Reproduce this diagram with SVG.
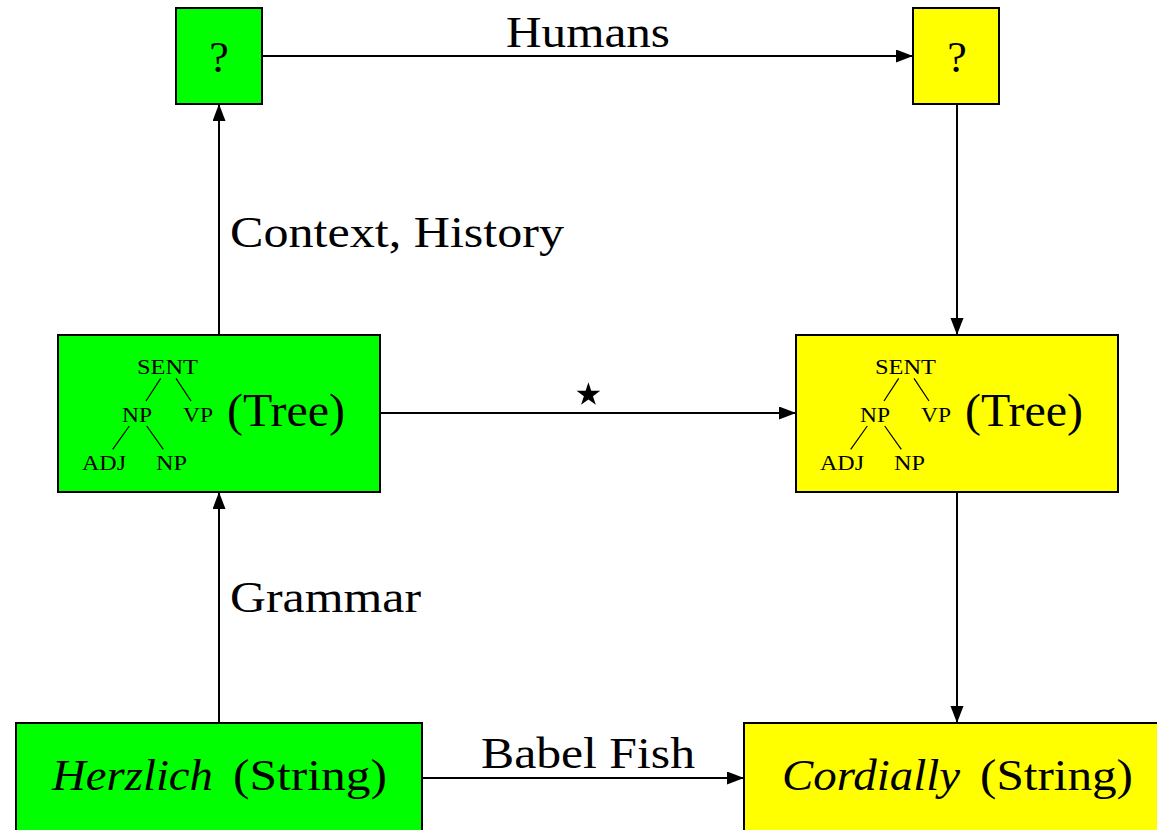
<svg xmlns="http://www.w3.org/2000/svg" width="1157" height="830" viewBox="0 0 1157 830">
  <style>
    .box { stroke: #000; stroke-width: 2; }
    .g { fill: #00ff00; }
    .y { fill: #ffff00; }
    .edge { stroke: #000; stroke-width: 2; fill: none; }
    .twig { stroke: #000; stroke-width: 1.2; fill: none; }
    text { font-family: "Liberation Serif", "DejaVu Serif", serif; fill: #000; }
    .lbl { font-size: 44px; }
    .big { font-size: 46px; }
    .sm { font-size: 22px; }
    .it { font-style: italic; }
  </style>
  <defs>
    <marker id="arrow" markerUnits="userSpaceOnUse" markerWidth="18" markerHeight="14" refX="17" refY="6.5" orient="auto">
      <path d="M0,0 L17,6.5 L0,13 Z" fill="#000"/>
    </marker>
  </defs>

  <rect width="1157" height="830" fill="#fff"/>

  <!-- connectors -->
  <g id="connectors">
    <line class="edge" x1="262" y1="56" x2="913" y2="56" marker-end="url(#arrow)"/>
    <text class="lbl" x="506" y="47" textLength="164" lengthAdjust="spacingAndGlyphs">Humans</text>

    <line class="edge" x1="219" y1="335" x2="219" y2="104" marker-end="url(#arrow)"/>
    <text class="lbl" x="230" y="247" textLength="334" lengthAdjust="spacingAndGlyphs">Context, History</text>

    <line class="edge" x1="957" y1="104" x2="957" y2="335" marker-end="url(#arrow)"/>

    <line class="edge" x1="380" y1="413" x2="796" y2="413" marker-end="url(#arrow)"/>
    <text x="588" y="413.5" font-size="62" text-anchor="middle">⋆</text>

    <line class="edge" x1="219" y1="723" x2="219" y2="492" marker-end="url(#arrow)"/>
    <text class="lbl" x="230" y="612" textLength="191" lengthAdjust="spacingAndGlyphs">Grammar</text>

    <line class="edge" x1="957" y1="492" x2="957" y2="723" marker-end="url(#arrow)"/>

    <line class="edge" x1="422" y1="778" x2="744" y2="778" marker-end="url(#arrow)"/>
    <text class="lbl" x="481" y="768" textLength="214" lengthAdjust="spacingAndGlyphs">Babel Fish</text>
  </g>

  <!-- top: unknown source meaning -->
  <g id="node-meaning-src">
    <rect class="box g" x="176" y="8" width="86" height="96"/>
    <text class="lbl" x="219" y="72" text-anchor="middle">?</text>
  </g>

  <!-- top: unknown target meaning -->
  <g id="node-meaning-dst">
    <rect class="box y" x="913" y="8" width="86" height="96"/>
    <text class="lbl" x="957" y="72" text-anchor="middle">?</text>
  </g>

  <!-- middle: source parse tree -->
  <g id="node-tree-src">
    <rect class="box g" x="58" y="335" width="322" height="157"/>
    <text class="sm" x="167.5" y="374" text-anchor="middle" textLength="61" lengthAdjust="spacingAndGlyphs">SENT</text>
    <text class="sm" x="137" y="422" text-anchor="middle" textLength="30" lengthAdjust="spacingAndGlyphs">NP</text>
    <text class="sm" x="198" y="422" text-anchor="middle" textLength="30" lengthAdjust="spacingAndGlyphs">VP</text>
    <text class="sm" x="104" y="470" text-anchor="middle" textLength="44" lengthAdjust="spacingAndGlyphs">ADJ</text>
    <text class="sm" x="171.5" y="470" text-anchor="middle" textLength="31" lengthAdjust="spacingAndGlyphs">NP</text>
    <path class="twig" d="M160.7,378.3 L146,401 M176,378.3 L191,401 M129.3,426 L112.7,449.3 M146.7,426 L163.3,449.3"/>
    <text class="big" x="227" y="426" textLength="118" lengthAdjust="spacingAndGlyphs">(Tree)</text>
  </g>

  <!-- middle: target parse tree -->
  <g id="node-tree-dst">
    <rect class="box y" x="796" y="335" width="322" height="157"/>
    <g transform="translate(738,0)">
      <text class="sm" x="167.5" y="374" text-anchor="middle" textLength="61" lengthAdjust="spacingAndGlyphs">SENT</text>
      <text class="sm" x="137" y="422" text-anchor="middle" textLength="30" lengthAdjust="spacingAndGlyphs">NP</text>
      <text class="sm" x="198" y="422" text-anchor="middle" textLength="30" lengthAdjust="spacingAndGlyphs">VP</text>
      <text class="sm" x="104" y="470" text-anchor="middle" textLength="44" lengthAdjust="spacingAndGlyphs">ADJ</text>
      <text class="sm" x="171.5" y="470" text-anchor="middle" textLength="31" lengthAdjust="spacingAndGlyphs">NP</text>
      <path class="twig" d="M160.7,378.3 L146,401 M176,378.3 L191,401 M129.3,426 L112.7,449.3 M146.7,426 L163.3,449.3"/>
      <text class="big" x="227" y="426" textLength="118" lengthAdjust="spacingAndGlyphs">(Tree)</text>
    </g>
  </g>

  <!-- bottom: source string -->
  <g id="node-string-src">
    <rect class="box g" x="16" y="723" width="406" height="130"/>
    <text class="lbl it" x="52" y="790" textLength="161" lengthAdjust="spacingAndGlyphs">Herzlich</text>
    <text class="lbl" x="233" y="790" textLength="154" lengthAdjust="spacingAndGlyphs">(String)</text>
  </g>

  <!-- bottom: target string -->
  <g id="node-string-dst">
    <rect class="box y" x="744" y="723" width="430" height="130"/>
    <text class="lbl it" x="782" y="790" textLength="178" lengthAdjust="spacingAndGlyphs">Cordially</text>
    <text class="lbl" x="980" y="790" textLength="153" lengthAdjust="spacingAndGlyphs">(String)</text>
  </g>
</svg>
